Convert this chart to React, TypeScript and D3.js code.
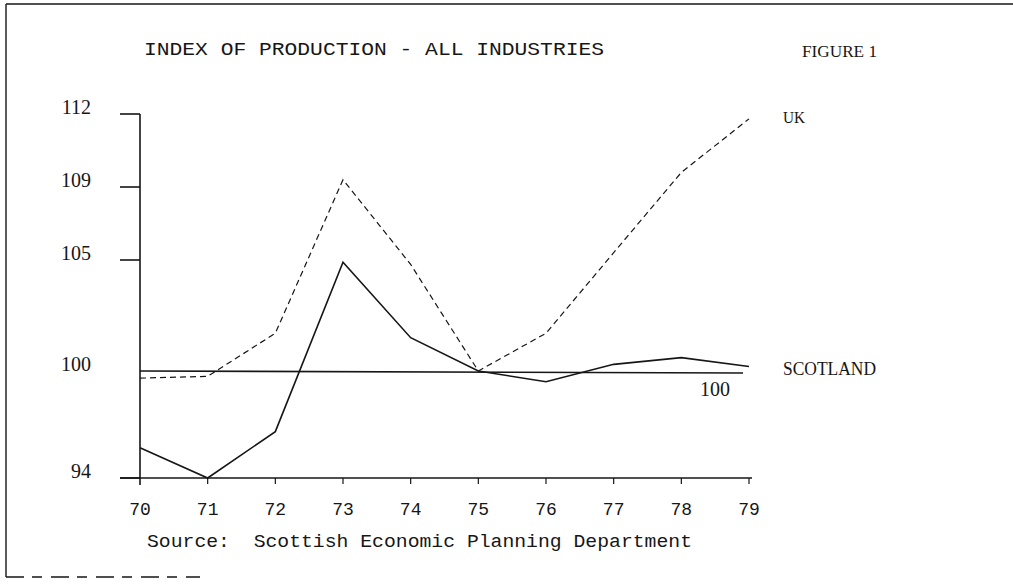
import React, { useEffect, useRef } from 'react';
import * as d3 from 'd3';

const years = [70, 71, 72, 73, 74, 75, 76, 77, 78, 79];
const scotland = [95.7, 94, 96.6, 104.9, 101.5, 100, 99.4, 100.3, 100.6, 100.2];
const uk = [99.6, 99.7, 101.7, 109.3, 104.8, 100, 101.7, 105.4, 109.6, 111.8];
const yTicks = [112, 109, 105, 100, 94];
const baseValue = 100;

const title = 'INDEX OF PRODUCTION - ALL INDUSTRIES';
const figLabel = 'FIGURE 1';
const source = 'Source:  Scottish Economic Planning Department';

const W = 1013;
const H = 588;
const ink = '#161616';

const App: React.FC = () => {
  const svgRef = useRef<SVGSVGElement>(null);

  useEffect(() => {
    if (!svgRef.current) return;
    const svg = d3.select(svgRef.current);
    svg.selectAll('*').remove();

    // the printed axis is not evenly spaced, so map each labelled value to its place
    const x = d3.scaleLinear().domain([70, 79]).range([140, 749]);
    const y = d3.scaleLinear().domain([94, 100, 105, 109, 112]).range([478, 371, 260, 187, 114]);

    svg.append('rect').attr('width', W).attr('height', H).attr('fill', '#fff');

    // page frame
    const frame = svg.append('g').attr('stroke', ink).attr('fill', 'none');
    frame.append('line').attr('x1', 6).attr('x2', W).attr('y1', 4).attr('y2', 4).attr('stroke-width', 1.6);
    frame.append('line').attr('x1', 6).attr('x2', 6).attr('y1', 4).attr('y2', 577).attr('stroke-width', 1.4);
    frame.append('line').attr('x1', 6).attr('x2', 200).attr('y1', 577).attr('y2', 577)
      .attr('stroke-width', 1.4).attr('stroke-dasharray', '18 8 10 9');

    // headings
    svg.append('text').attr('x', 144).attr('y', 55).text(title)
      .attr('font-family', 'Liberation Mono, monospace').attr('font-size', 18)
      .attr('textLength', 460).attr('lengthAdjust', 'spacingAndGlyphs').attr('fill', ink);
    svg.append('text').attr('x', 802).attr('y', 57).text(figLabel)
      .attr('font-family', 'Liberation Serif, serif').attr('font-size', 16)
      .attr('textLength', 75).attr('lengthAdjust', 'spacingAndGlyphs').attr('fill', ink);

    const axes = svg.append('g').attr('stroke', ink).attr('stroke-width', 1.6).attr('fill', 'none');
    const x0 = x(years[0]);
    const yb = y(94);

    // y axis
    axes.append('line').attr('x1', x0).attr('x2', x0).attr('y1', y(112)).attr('y2', yb + 7);
    yTicks.filter(v => v !== baseValue).forEach(v => {
      axes.append('line').attr('x1', x0 - 20).attr('x2', x0).attr('y1', y(v)).attr('y2', y(v));
    });
    svg.append('g').selectAll('text').data(yTicks).enter().append('text')
      .attr('x', 91).attr('y', d => y(d)).attr('text-anchor', 'end')
      .attr('font-family', 'Liberation Serif, serif').attr('font-size', 20).attr('fill', ink)
      .text(d => d);

    // x axis
    axes.append('line').attr('x1', x0 - 20).attr('x2', x(79) + 3).attr('y1', yb).attr('y2', yb);
    years.slice(1).forEach(v => {
      axes.append('line').attr('x1', x(v)).attr('x2', x(v)).attr('y1', yb).attr('y2', yb + 6).attr('stroke-width', 1.2);
    });
    svg.append('g').selectAll('text').data(years).enter().append('text')
      .attr('x', d => x(d)).attr('y', 515).attr('text-anchor', 'middle')
      .attr('font-family', 'Liberation Mono, monospace').attr('font-size', 18).attr('fill', ink)
      .text(d => d);

    svg.append('text').attr('x', 147).attr('y', 547).text(source)
      .attr('font-family', 'Liberation Mono, monospace').attr('font-size', 19)
      .attr('textLength', 545).attr('lengthAdjust', 'spacingAndGlyphs').attr('fill', ink)
      .style('white-space', 'pre');

    // base = 100 line
    svg.append('line').attr('x1', x0).attr('x2', x(79) - 6).attr('y1', y(baseValue)).attr('y2', y(baseValue) + 2)
      .attr('stroke', ink).attr('stroke-width', 1.6);
    svg.append('text').attr('x', 730).attr('y', 396).attr('text-anchor', 'end').text(baseValue)
      .attr('font-family', 'Liberation Serif, serif').attr('font-size', 20).attr('fill', ink);

    const line = d3.line<number>().x((_, i) => x(years[i])).y(d => y(d));

    svg.append('path').datum(uk).attr('d', line).attr('fill', 'none')
      .attr('stroke', ink).attr('stroke-width', 1.2).attr('stroke-dasharray', '6 4');
    svg.append('path').datum(scotland).attr('d', line).attr('fill', 'none')
      .attr('stroke', ink).attr('stroke-width', 1.6);

    // series names
    svg.append('text').attr('x', 783).attr('y', 123).text('UK')
      .attr('font-family', 'Liberation Serif, serif').attr('font-size', 17)
      .attr('textLength', 22).attr('lengthAdjust', 'spacingAndGlyphs').attr('fill', ink);
    svg.append('text').attr('x', 783).attr('y', 375).text('SCOTLAND')
      .attr('font-family', 'Liberation Serif, serif').attr('font-size', 18)
      .attr('textLength', 93).attr('lengthAdjust', 'spacingAndGlyphs').attr('fill', ink);
  }, []);

  return (
    <svg ref={svgRef} width={W} height={H} style={{ position: 'absolute', left: 0, top: 0 }} />
  );
};

export default App;
